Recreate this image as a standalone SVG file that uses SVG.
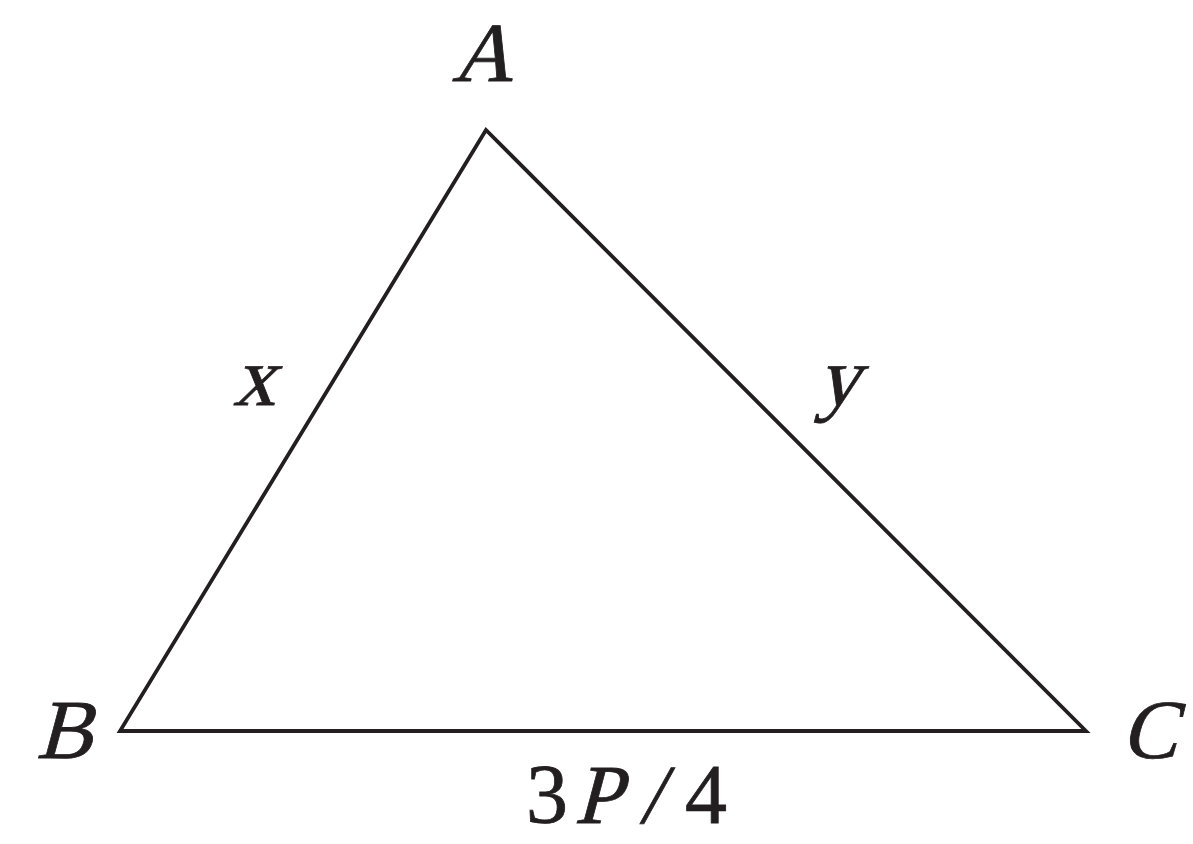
<svg xmlns="http://www.w3.org/2000/svg" width="1193" height="844" viewBox="0 0 1193 844">
<style>
.lbl{font-family:"Liberation Serif","Times New Roman",serif;font-size:84px;fill:#231f20;stroke:#231f20;stroke-width:0.8}
.edge{fill:none;stroke:#231f20;stroke-width:3.8;stroke-linejoin:miter}
</style>
<rect width="1193" height="844" fill="#ffffff"/>
<g id="connectors">
<polygon class="edge" points="486,130 120,731 1086,731"/>
</g>
<g id="A"><text class="lbl" transform="translate(482,81) skewX(-15)" text-anchor="middle">A</text></g>
<g id="B"><text class="lbl" transform="translate(64,758) skewX(-15)" text-anchor="middle">B</text></g>
<g id="C"><text class="lbl" transform="translate(1149,758) skewX(-15)" text-anchor="middle">C</text></g>
<g id="label-x"><text class="lbl" transform="translate(254,405) skewX(-15)" text-anchor="middle">x</text></g>
<g id="label-y"><text class="lbl" transform="translate(838,405) skewX(-15)" text-anchor="middle">y</text></g>
<g id="label-base">
<text class="lbl" x="526" y="823">3</text>
<text class="lbl" transform="translate(574,823) skewX(-15)">P</text>
<text class="lbl" transform="translate(640,823) skewX(-12)" font-size="94">/</text>
<text class="lbl" x="685" y="823">4</text>
</g>
</svg>
